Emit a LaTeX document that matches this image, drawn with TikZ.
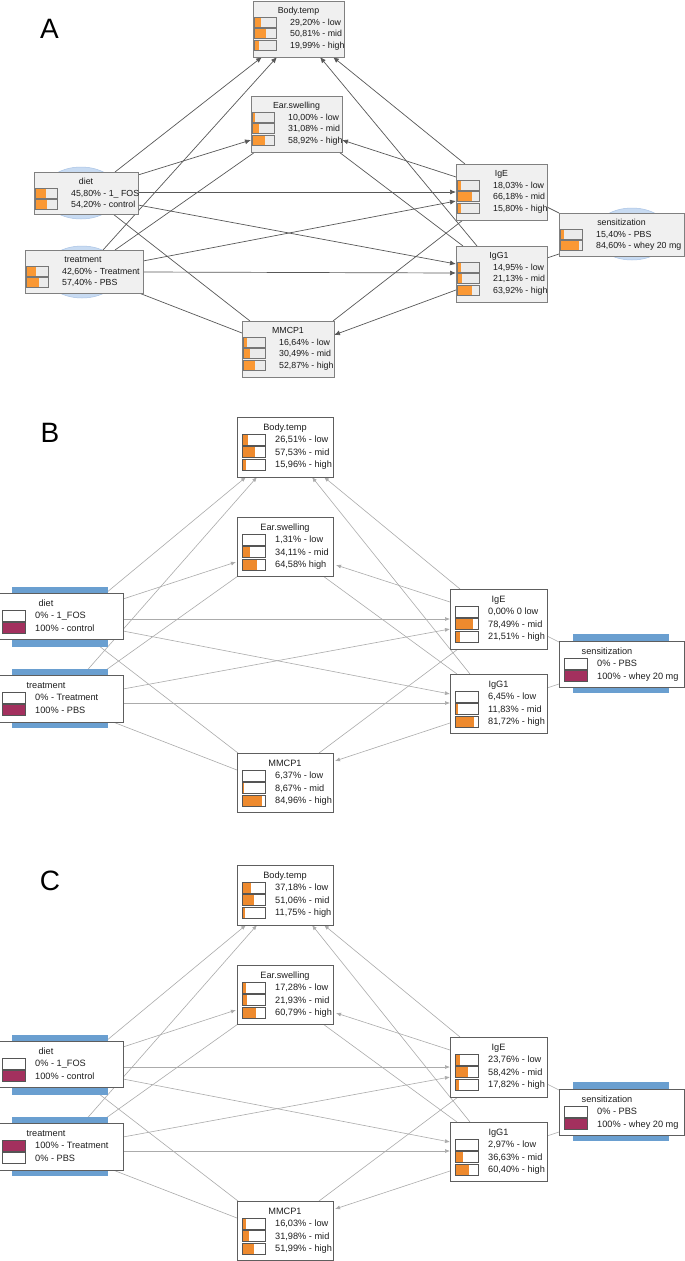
\documentclass[tikz,border=0pt]{standalone}
\usepackage{fontspec}
\setmainfont{Liberation Sans}
\usetikzlibrary{calc,arrows.meta}
\pgfdeclarelayer{back}
\pgfdeclarelayer{edges}
\pgfdeclarelayer{halo}
\pgfsetlayers{back,edges,halo,main}
\definecolor{boxfillA}{HTML}{F0F0F0}
\definecolor{boxlineA}{HTML}{808080}
\definecolor{barbgA}{HTML}{EBEBEB}
\definecolor{barlineA}{HTML}{767676}
\definecolor{orangeA}{HTML}{FA9834}
\definecolor{edgecolA}{HTML}{585858}
\definecolor{ellfill}{HTML}{C8DBF2}
\definecolor{elldraw}{HTML}{A9C3E5}
\definecolor{boxlineB}{HTML}{5E5E5E}
\definecolor{barlineB}{HTML}{555555}
\definecolor{orangeB}{HTML}{EE8A2E}
\definecolor{edgecolB}{HTML}{ABABAB}
\definecolor{evid}{HTML}{A3305E}
\definecolor{blueB}{HTML}{6A9FD0}
\tikzset{
  boxA/.style={draw=boxlineA, fill=boxfillA, line width=0.9pt, inner sep=0pt, outer sep=0pt, anchor=north west},
  boxB/.style={draw=boxlineB, fill=white, line width=0.9pt, inner sep=0pt, outer sep=0pt, anchor=north west},
  txtA/.style={font=\fontsize{8.8}{10}\selectfont, inner sep=0pt, anchor=base west, text=black!90},
  ttlA/.style={font=\fontsize{8.8}{10}\selectfont, inner sep=0pt, anchor=base, text=black!90},
  txtB/.style={font=\fontsize{9.2}{10}\selectfont, inner sep=0pt, anchor=base west, text=black!88},
  ttlB/.style={font=\fontsize{9.2}{10}\selectfont, inner sep=0pt, anchor=base, text=black!88},
  barA/.style={draw=barlineA, line width=0.8pt},
  barB/.style={draw=barlineB, line width=0.8pt},
  edA/.style={draw=edgecolA, line width=0.7pt},
  edB/.style={draw=edgecolB, line width=0.6pt},
  arA/.style={edA, -{Latex[length=6pt,width=5pt]}},
  arB/.style={edB, -{Latex[length=5pt,width=4pt]}},
  panellabel/.style={font=\fontsize{28}{30}\selectfont, inner sep=0pt, anchor=base},
  halo/.style={fill=ellfill, draw=elldraw, line width=0.5pt},
}
% box of panel A: name, x, y, width, height, title dx, title
\newcommand\bnA[7]{%
  \node[boxA, minimum width=#4pt, minimum height=#5pt] (#1) at (#2,#3) {};
  \node[ttlA] (#1-title) at ($(#1.north west)+(#6,12.2)$) {#7};}
\newcommand\bnB[7]{%
  \node[boxB, minimum width=#4pt, minimum height=#5pt] (#1) at (#2,#3) {};
  \node[ttlB] (#1-title) at ($(#1.north west)+(#6,13.3)$) {#7};}
% row of panel A: box, index, fraction, text
\newcommand\bnrowA[4]{%
  \fill[barbgA] ($(#1.north west)+(1.5,{16+11.7*(#2-1)})$) rectangle ($(#1.north west)+(23.5,{26+11.7*(#2-1)})$);
  \fill[orangeA] ($(#1.north west)+(1.5,{16+11.7*(#2-1)})$) rectangle ($(#1.north west)+({1.5+22*#3},{26+11.7*(#2-1)})$);
  \draw[barA] ($(#1.north west)+(1.5,{16+11.7*(#2-1)})$) rectangle ($(#1.north west)+(23.5,{26+11.7*(#2-1)})$);
  \node[txtA] (#1-r#2) at ($(#1.north west)+(37,{24.2+11.7*(#2-1)})$) {#4};}
% row of panels B and C: box, index, fraction, text, colour
\newcommand\bnrowB[5]{%
  \fill[white] ($(#1.north west)+(5,{17+12.5*(#2-1)})$) rectangle ($(#1.north west)+(28,{28+12.5*(#2-1)})$);
  \fill[#5] ($(#1.north west)+(5,{17+12.5*(#2-1)})$) rectangle ($(#1.north west)+({5+23*#3},{28+12.5*(#2-1)})$);
  \draw[barB] ($(#1.north west)+(5,{17+12.5*(#2-1)})$) rectangle ($(#1.north west)+(28,{28+12.5*(#2-1)})$);
  \node[txtB] (#1-r#2) at ($(#1.north west)+(38,{25.8+12.5*(#2-1)})$) {#4};}
\newcommand\bnedge[7]{\draw[#1] ($(#2.north west)+(#3,#4)$) -- ($(#5.north west)+(#6,#7)$);}
\newcommand\bluebar[5]{\fill[blueB] ($(#1.north west)+(#2,#3)$) rectangle ($(#1.north west)+(#4,#5)$);}
\newcommand\edgesBC[1]{%
  \bnedge{arB}{diet#1}{109}{0}{body#1}{9}{60}
  \bnedge{arB}{treat#1}{86}{0}{body#1}{20}{60}
  \bnedge{arB}{diet#1}{126}{6}{ear#1}{-1}{45}
  \bnedge{edB}{treat#1}{102}{0}{ear#1}{1}{59}
  \bnedge{arB}{diet#1}{126}{26}{ige#1}{0}{30}
  \bnedge{arB}{diet#1}{126}{38}{igg#1}{0}{20}
  \bnedge{arB}{treat#1}{126}{14}{ige#1}{0}{40}
  \bnedge{arB}{treat#1}{126}{28}{igg#1}{0}{29}
  \bnedge{edB}{diet#1}{93}{46}{mmcp#1}{1}{0}
  \bnedge{edB}{treat#1}{116}{47}{mmcp#1}{0}{17}
  \bnedge{edB}{mmcp#1}{82}{0}{ige#1}{8}{60}
  \bnedge{arB}{igg#1}{0}{49}{mmcp#1}{98}{8}
  \bnedge{edB}{ear#1}{86}{59}{igg#1}{7}{0}
  \bnedge{arB}{ige#1}{0}{13}{ear#1}{99}{48}
  \bnedge{arB}{igg#1}{20}{0}{body#1}{75}{60}
  \bnedge{arB}{ige#1}{10}{0}{body#1}{87}{60}
  \bnedge{edB}{ige#1}{97}{47}{sens#1}{0}{1}
  \bnedge{edB}{igg#1}{97}{14}{sens#1}{0}{43}}
\begin{document}
\begin{tikzpicture}[x=1pt,y=-1pt]
\useasboundingbox (0,0) rectangle (685,1261);
\begin{pgfonlayer}{back}
  \fill[white] (0,0) rectangle (685,1261);
\end{pgfonlayer}

% ================= Panel A =================
\node[panellabel] (labA) at (49.5,38) {A};
\bnA{bodyA}{253}{1}{91}{56}{45.5}{Body.temp}
\bnrowA{bodyA}{1}{0.2920}{29,20\% - low}
\bnrowA{bodyA}{2}{0.5081}{50,81\% - mid}
\bnrowA{bodyA}{3}{0.1999}{19,99\% - high}
\bnA{earA}{251}{96}{91}{56}{45.5}{Ear.swelling}
\bnrowA{earA}{1}{0.1000}{10,00\% - low}
\bnrowA{earA}{2}{0.3108}{31,08\% - mid}
\bnrowA{earA}{3}{0.5892}{58,92\% - high}
\bnA{dietA}{34}{172}{104}{42}{52}{diet}
\bnrowA{dietA}{1}{0.4580}{45,80\% - 1\_ FOS}
\bnrowA{dietA}{2}{0.5420}{54,20\% - control}
\bnA{treatA}{25}{250}{118}{43}{58}{treatment}
\bnrowA{treatA}{1}{0.4260}{42,60\% - Treatment}
\bnrowA{treatA}{2}{0.5740}{57,40\% - PBS}
\bnA{mmcpA}{242}{321}{92}{56}{46}{MMCP1}
\bnrowA{mmcpA}{1}{0.1664}{16,64\% - low}
\bnrowA{mmcpA}{2}{0.3049}{30,49\% - mid}
\bnrowA{mmcpA}{3}{0.5287}{52,87\% - high}
\bnA{igeA}{456}{164}{91}{56}{45.5}{IgE}
\bnrowA{igeA}{1}{0.1803}{18,03\% - low}
\bnrowA{igeA}{2}{0.6618}{66,18\% - mid}
\bnrowA{igeA}{3}{0.1580}{15,80\% - high}
\bnA{iggA}{456}{246}{91}{56}{43}{IgG1}
\bnrowA{iggA}{1}{0.1495}{14,95\% - low}
\bnrowA{iggA}{2}{0.2113}{21,13\% - mid}
\bnrowA{iggA}{3}{0.6392}{63,92\% - high}
\bnA{sensA}{559}{213}{125}{43}{62.5}{sensitization}
\bnrowA{sensA}{1}{0.1540}{15,40\% - PBS}
\bnrowA{sensA}{2}{0.8460}{84,60\% - whey 20 mg}
\begin{pgfonlayer}{halo}
  \draw[halo] ($(dietA.north west)+(47,21)$) ellipse [x radius=38pt, y radius=26pt];
  \draw[halo] ($(treatA.north west)+(57,22)$) ellipse [x radius=38pt, y radius=26pt];
  \draw[halo] ($(sensA.north west)+(73,21)$) ellipse [x radius=38pt, y radius=26pt];
\end{pgfonlayer}
\begin{pgfonlayer}{edges}
  \bnedge{arA}{dietA}{81}{0}{bodyA}{9}{56}
  \bnedge{arA}{treatA}{78}{0}{bodyA}{24}{56}
  \bnedge{arA}{dietA}{104}{3}{earA}{0}{44}
  \bnedge{edA}{treatA}{90}{0}{earA}{4}{56}
  \bnedge{arA}{dietA}{104}{20}{igeA}{0}{28}
  \bnedge{arA}{dietA}{104}{33}{iggA}{0}{18}
  \bnedge{arA}{treatA}{118}{11}{igeA}{0}{37}
  \bnedge{arA}{treatA}{118}{22}{iggA}{0}{27}
  \bnedge{edA}{dietA}{79}{42}{mmcpA}{8}{0}
  \bnedge{edA}{treatA}{114}{43}{mmcpA}{0}{12}
  \bnedge{edA}{mmcpA}{91}{0}{igeA}{7}{56}
  \bnedge{arA}{iggA}{0}{44}{mmcpA}{92}{14}
  \bnedge{edA}{earA}{88}{56}{iggA}{7}{0}
  \bnedge{arA}{igeA}{0}{13}{earA}{91}{44}
  \bnedge{arA}{iggA}{21}{0}{bodyA}{67}{56}
  \bnedge{arA}{igeA}{9}{0}{bodyA}{80}{56}
  \bnedge{edA}{igeA}{91}{43}{sensA}{0}{0}
  \bnedge{edA}{iggA}{91}{12}{sensA}{0}{41}
\end{pgfonlayer}

% ================= Panel B =================
\node[panellabel] (labB) at (50,442) {B};
\bnB{bodyB}{237}{417}{96}{60}{48}{Body.temp}
\bnrowB{bodyB}{1}{0.2651}{26,51\% - low}{orangeB}
\bnrowB{bodyB}{2}{0.5753}{57,53\% - mid}{orangeB}
\bnrowB{bodyB}{3}{0.1596}{15,96\% - high}{orangeB}
\bnB{earB}{237}{517}{96}{59}{48}{Ear.swelling}
\bnrowB{earB}{1}{0.0131}{1,31\% - low}{orangeB}
\bnrowB{earB}{2}{0.3411}{34,11\% - mid}{orangeB}
\bnrowB{earB}{3}{0.6458}{64,58\% high}{orangeB}
\bnB{dietB}{-3}{593}{126}{46}{49}{diet}
\bnrowB{dietB}{1}{0}{0\% - 1\_FOS}{orangeB}
\bnrowB{dietB}{2}{1}{100\% - control}{evid}
\bnB{treatB}{-3}{675}{126}{47}{49}{treatment}
\bnrowB{treatB}{1}{0}{0\% - Treatment}{orangeB}
\bnrowB{treatB}{2}{1}{100\% - PBS}{evid}
\bnB{mmcpB}{237}{753}{96}{59}{48}{MMCP1}
\bnrowB{mmcpB}{1}{0.0637}{6,37\% - low}{orangeB}
\bnrowB{mmcpB}{2}{0.0867}{8,67\% - mid}{orangeB}
\bnrowB{mmcpB}{3}{0.8496}{84,96\% - high}{orangeB}
\bnB{igeB}{450}{589}{97}{60}{48.5}{IgE}
\bnrowB{igeB}{1}{0}{0,00\% 0 low}{orangeB}
\bnrowB{igeB}{2}{0.7849}{78,49\% - mid}{orangeB}
\bnrowB{igeB}{3}{0.2151}{21,51\% - high}{orangeB}
\bnB{iggB}{450}{674}{97}{59}{48.5}{IgG1}
\bnrowB{iggB}{1}{0.0645}{6,45\% - low}{orangeB}
\bnrowB{iggB}{2}{0.1183}{11,83\% - mid}{orangeB}
\bnrowB{iggB}{3}{0.8172}{81,72\% - high}{orangeB}
\bnB{sensB}{559}{641}{125}{46}{48}{sensitization}
\bnrowB{sensB}{1}{0}{0\% - PBS}{orangeB}
\bnrowB{sensB}{2}{1}{100\% - whey 20 mg}{evid}
\begin{pgfonlayer}{halo}
  \bluebar{dietB}{15}{-6}{111}{54}
  \bluebar{treatB}{15}{-6}{111}{53}
  \bluebar{sensB}{14}{-7}{110}{52}
\end{pgfonlayer}
\begin{pgfonlayer}{edges}
  \edgesBC{B}
\end{pgfonlayer}

% ================= Panel C =================
\node[panellabel] (labC) at (50,890) {C};
\bnB{bodyC}{237}{865}{96}{60}{48}{Body.temp}
\bnrowB{bodyC}{1}{0.3718}{37,18\% - low}{orangeB}
\bnrowB{bodyC}{2}{0.5106}{51,06\% - mid}{orangeB}
\bnrowB{bodyC}{3}{0.1175}{11,75\% - high}{orangeB}
\bnB{earC}{237}{965}{96}{59}{48}{Ear.swelling}
\bnrowB{earC}{1}{0.1728}{17,28\% - low}{orangeB}
\bnrowB{earC}{2}{0.2193}{21,93\% - mid}{orangeB}
\bnrowB{earC}{3}{0.6079}{60,79\% - high}{orangeB}
\bnB{dietC}{-3}{1041}{126}{46}{49}{diet}
\bnrowB{dietC}{1}{0}{0\% - 1\_FOS}{orangeB}
\bnrowB{dietC}{2}{1}{100\% - control}{evid}
\bnB{treatC}{-3}{1123}{126}{47}{49}{treatment}
\bnrowB{treatC}{1}{1}{100\% - Treatment}{evid}
\bnrowB{treatC}{2}{0}{0\% - PBS}{orangeB}
\bnB{mmcpC}{237}{1201}{96}{59}{48}{MMCP1}
\bnrowB{mmcpC}{1}{0.1603}{16,03\% - low}{orangeB}
\bnrowB{mmcpC}{2}{0.3198}{31,98\% - mid}{orangeB}
\bnrowB{mmcpC}{3}{0.5199}{51,99\% - high}{orangeB}
\bnB{igeC}{450}{1037}{97}{60}{48.5}{IgE}
\bnrowB{igeC}{1}{0.2376}{23,76\% - low}{orangeB}
\bnrowB{igeC}{2}{0.5842}{58,42\% - mid}{orangeB}
\bnrowB{igeC}{3}{0.1782}{17,82\% - high}{orangeB}
\bnB{iggC}{450}{1122}{97}{59}{48.5}{IgG1}
\bnrowB{iggC}{1}{0.0297}{2,97\% - low}{orangeB}
\bnrowB{iggC}{2}{0.3663}{36,63\% - mid}{orangeB}
\bnrowB{iggC}{3}{0.6040}{60,40\% - high}{orangeB}
\bnB{sensC}{559}{1089}{125}{46}{48}{sensitization}
\bnrowB{sensC}{1}{0}{0\% - PBS}{orangeB}
\bnrowB{sensC}{2}{1}{100\% - whey 20 mg}{evid}
\begin{pgfonlayer}{halo}
  \bluebar{dietC}{15}{-6}{111}{54}
  \bluebar{treatC}{15}{-6}{111}{53}
  \bluebar{sensC}{14}{-7}{110}{52}
\end{pgfonlayer}
\begin{pgfonlayer}{edges}
  \edgesBC{C}
\end{pgfonlayer}
\end{tikzpicture}
\end{document}
